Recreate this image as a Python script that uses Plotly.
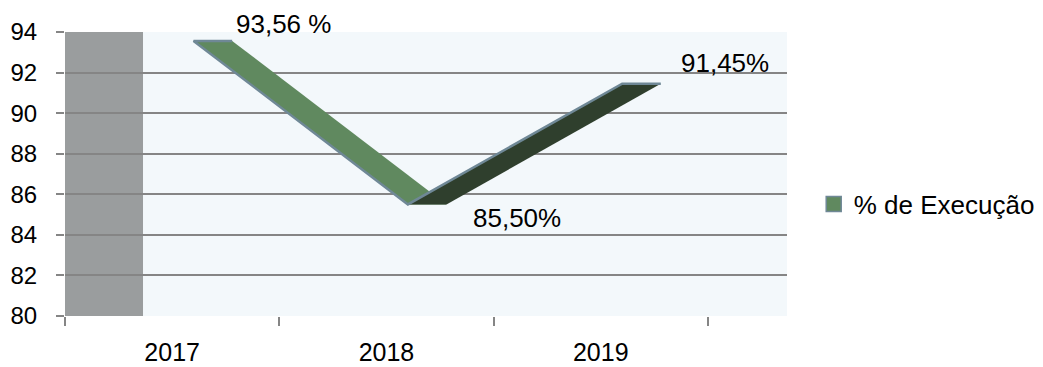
import plotly.graph_objects as go

# Execution rate per year
years = ["2017", "2018", "2019"]
execucao = [93.56, 85.50, 91.45]
value_labels = ["93,56 %", "85,50%", "91,45%"]
series_name = "% de Execução"
y_ticks = [80, 82, 84, 86, 88, 90, 92, 94]

FONT = "Liberation Sans, Arial, sans-serif"
GREEN = "#60895f"
DARK = "#2f3f2d"
EDGE = "#6f8896"
WALL = "#9a9d9e"
BG = "#f3f8fb"
GRID = "#858585"

# ribbon depth (front / back edge offsets, in category units)
FRONT, BACK = 0.10, 0.28

xs = list(range(len(years)))
fig = go.Figure()

# ribbon faces, one quad per segment: lit face going down, shaded face going up
for i in range(len(years) - 1):
    going_down = execucao[i + 1] < execucao[i]
    fig.add_trace(go.Scatter(
        x=[xs[i] + FRONT, xs[i] + BACK, xs[i + 1] + BACK, xs[i + 1] + FRONT, xs[i] + FRONT],
        y=[execucao[i], execucao[i], execucao[i + 1], execucao[i + 1], execucao[i]],
        fill="toself", fillcolor=GREEN if going_down else DARK,
        mode="lines", line=dict(width=0, color=GREEN if going_down else DARK),
        showlegend=False, hoverinfo="skip",
    ))

# front edge of the ribbon
edge_x = [xs[0] + BACK] + [x + FRONT for x in xs] + [xs[-1] + BACK]
edge_y = [execucao[0]] + execucao + [execucao[-1]]
fig.add_trace(go.Scatter(
    x=edge_x, y=edge_y, mode="lines",
    line=dict(color=EDGE, width=2.5), showlegend=False, hoverinfo="skip",
))

# legend entry
fig.add_trace(go.Scatter(
    x=[None], y=[None], mode="markers", name=series_name,
    marker=dict(symbol="square", size=15, color=GREEN, line=dict(color=EDGE, width=1.5)),
))

# value labels
label_dx = [0.52, 0.61, 0.58]
label_dy = [-17, 14, -21]
for x, v, t, dx, dy in zip(xs, execucao, value_labels, label_dx, label_dy):
    fig.add_annotation(x=x + dx, y=v, text=t, showarrow=False, yshift=-dy,
                       xanchor="center", yanchor="middle",
                       font=dict(family=FONT, size=26, color="#000"))

# side wall
fig.add_shape(type="rect", xref="x", yref="y", x0=-0.5, x1=-0.136,
              y0=y_ticks[0], y1=y_ticks[-1], fillcolor=WALL, line_width=0, layer="below")

fig.update_layout(
    width=1043, height=367,
    margin=dict(l=65, r=256, t=32, b=51, autoexpand=False),
    paper_bgcolor="white", plot_bgcolor=BG,
    font=dict(family=FONT, color="#000"),
    showlegend=True,
    legend=dict(x=1.037, y=0.394, xanchor="left", yanchor="middle",
                font=dict(family=FONT, size=26, color="#000"),
                bgcolor="rgba(0,0,0,0)", itemwidth=30),
    xaxis=dict(
        range=[-0.5, 2.869], tickmode="array", tickvals=xs, ticktext=years,
        ticks="", showgrid=False, zeroline=False, showline=False, automargin=False,
        tickfont=dict(family=FONT, size=25, color="#000"), ticklabelstandoff=19,
        minor=dict(tickmode="array", tickvals=[x - 0.5 for x in xs] + [xs[-1] + 0.5],
                   ticks="outside", ticklen=9, tickwidth=1.5, tickcolor=GRID, showgrid=False),
    ),
    yaxis=dict(
        range=[y_ticks[0], y_ticks[-1]], tickmode="array", tickvals=y_ticks,
        ticks="outside", ticklen=8, tickwidth=2, tickcolor=GRID, automargin=False,
        showgrid=True, gridcolor=GRID, gridwidth=2, zeroline=False, showline=False,
        tickfont=dict(family=FONT, size=24, color="#000"), ticklabelstandoff=14,
    ),
)

fig.write_html("out.html")
